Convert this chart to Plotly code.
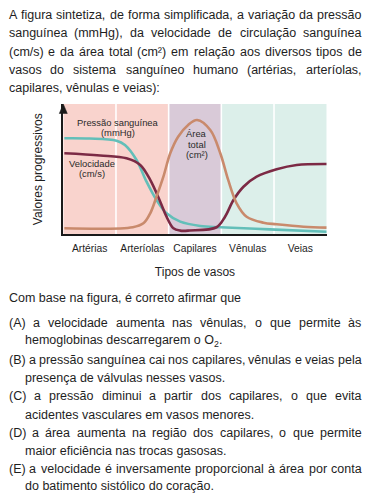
import plotly.graph_objects as go

# ---------------- data ----------------
categories = ["Artérias", "Arteríolas", "Capilares", "Vênulas", "Veias"]
band_colors = ["#f9d3cd", "#f9d3cd", "#d9cad8", "#dcefea", "#dcefea"]

pressure_x = [-0.48, 0.0, 0.51, 0.67, 0.89, 1.08, 1.27, 1.46, 1.72, 2.1, 2.48, 3.42, 4.5]
pressure_y = [73.7, 73.5, 71.8, 68.5, 57.0, 40.4, 26.3, 16.1, 9.7, 6.4, 5.4, 3.8, 2.0]

velocity_x = [-0.48, 0.2, 0.7, 0.96, 1.15, 1.34, 1.46, 1.59, 1.72, 1.9, 2.41, 2.57, 2.73, 2.92, 3.17, 3.55, 3.93, 4.5]
velocity_y = [62.2, 60.5, 58.3, 53.2, 41.7, 25.0, 13.5, 4.6, 2.8, 2.9, 5.4, 13.5, 26.3, 36.5, 44.2, 49.9, 53.2, 54.0]

area_x = [-0.48, 0.82, 1.02, 1.15, 1.27, 1.4, 1.53, 1.68, 1.87, 2.04, 2.29, 2.48, 2.63, 2.79, 2.98, 3.3, 3.55, 4.06, 4.5]
area_y = [4.6, 5.4, 8.4, 16.1, 28.9, 44.2, 62.2, 74.9, 83.9, 87.7, 80.0, 62.2, 41.7, 23.8, 13.5, 8.9, 7.7, 5.8, 5.1]

intro_lines = [
    "A figura sintetiza, de forma simplificada, a variação da pressão",
    "sanguínea (mmHg), da velocidade de circulação sanguínea",
    "(cm/s) e da área total (cm²) em relação aos diversos tipos de",
    "vasos do sistema sanguíneo humano (artérias, arteríolas,",
    "capilares, vênulas e veias):",
]
question_line = "Com base na figura, é correto afirmar que"
option_lines = [
    ("(A) a velocidade aumenta nas vênulas, o que permite às", "hemoglobinas descarregarem o O<sub>2</sub>."),
    ("(B) a pressão sanguínea cai nos capilares, vênulas e veias pela", "presença de válvulas nesses vasos."),
    ("(C) a pressão diminui a partir dos capilares, o que evita", "acidentes vasculares em vasos menores."),
    ("(D) a área aumenta na região dos capilares, o que permite", "maior eficiência nas trocas gasosas."),
    ("(E) a velocidade é inversamente proporcional à área por conta", "do batimento sistólico do coração."),
]

# ---------------- helpers ----------------
W, H = 368, 493
FONT = "Liberation Sans"
TXT = "#1e1e1e"
FS = 12.5

AW = {' ': 278, '(': 333, ')': 333, ',': 278, '.': 278, '/': 278, ':': 278, '²': 333,
      'A': 667, 'B': 667, 'C': 722, 'D': 722, 'E': 667, 'O': 778, 'P': 667, 'V': 667, 'T': 611,
      'a': 556, 'b': 556, 'c': 500, 'd': 556, 'e': 556, 'f': 278, 'g': 556, 'h': 556, 'i': 222,
      'j': 222, 'k': 500, 'l': 222, 'm': 833, 'n': 556, 'o': 556, 'p': 556, 'q': 556, 'r': 333,
      's': 500, 't': 278, 'u': 556, 'v': 500, 'w': 722, 'x': 500, 'y': 500, 'z': 500,
      'á': 556, 'à': 556, 'â': 556, 'ã': 556, 'é': 556, 'ê': 556, 'í': 278, 'ó': 556, 'ô': 556,
      'õ': 556, 'ú': 556, 'ç': 500, 'H': 722, 'M': 833}


def tw(s, fs=FS):
    return sum(AW.get(ch, 556) for ch in s) * fs / 1000.0


annotations = []


def add_text(text, xpx, ypx, fs=FS, anchor="left", color=TXT):
    annotations.append(dict(text=text, x=xpx / W, y=1 - ypx / H, xref="paper", yref="paper",
                            xanchor=anchor, yanchor="middle", showarrow=False,
                            borderpad=0, borderwidth=0,
                            font=dict(family=FONT, size=fs, color=color)))


def add_justified(line, left, right, ypx, fs=FS):
    words = line.split(" ")
    widths = [tw(w, fs) for w in words]
    gap = (right - left - sum(widths)) / (len(words) - 1)
    x = left
    for w, wd in zip(words, widths):
        add_text(w, x, ypx, fs)
        x += wd + gap


# ---------------- figure ----------------
fig = go.Figure()

fig.add_trace(go.Scatter(x=pressure_x, y=pressure_y, mode="lines", line=dict(color="#63bfb9", width=2.6, shape="spline", smoothing=1.0), hoverinfo="skip"))
fig.add_trace(go.Scatter(x=velocity_x, y=velocity_y, mode="lines", line=dict(color="#7c2a45", width=2.6, shape="spline", smoothing=1.0), hoverinfo="skip"))
fig.add_trace(go.Scatter(x=area_x, y=area_y, mode="lines", line=dict(color="#c98a6c", width=2.6, shape="spline", smoothing=1.0), hoverinfo="skip"))

AX_L, AX_R, AX_B, AX_T = 63.3, 326.7, 234.3, 104.0

shapes = []
for i, c in enumerate(band_colors):
    shapes.append(dict(type="rect", xref="x", yref="y domain", x0=i - 0.5, x1=i + 0.5, y0=0, y1=1,
                       fillcolor=c, line=dict(width=0), layer="below"))
for i in range(1, len(categories)):
    shapes.append(dict(type="line", xref="x", yref="y domain", x0=i - 0.5, x1=i - 0.5, y0=0, y1=1,
                       line=dict(color="white", width=1.6), layer="below"))


# arrowhead on top of the y axis (paper coords)
def px(x):
    return x / W


def py(y):
    return 1 - y / H


arrow_path = "M {:.5f} {:.5f} L {:.5f} {:.5f} L {:.5f} {:.5f} Z".format(
    px(AX_L - 4), py(AX_T + 9.5), px(AX_L + 4), py(AX_T + 9.5), px(AX_L), py(AX_T))
shapes.append(dict(type="path", xref="paper", yref="paper", path=arrow_path,
                   fillcolor="#1a1a1a", line=dict(color="#1a1a1a", width=0.5), layer="above"))

# intro text
LEFT, RIGHT = 8.5, 361.5
intro_y = [15, 33.3, 51.6, 70, 88.3]
for k, (line, y) in enumerate(zip(intro_lines, intro_y)):
    if k < len(intro_lines) - 1:
        add_justified(line, LEFT, RIGHT, y)
    else:
        add_text(line, LEFT, y)

add_text(question_line, LEFT, 298)
opt_y = [(323, 341.3), (360, 378), (396.3, 414.5), (432.8, 451), (469.2, 486)]
for (l1, l2), (y1, y2) in zip(option_lines, opt_y):
    add_justified(l1, LEFT, RIGHT, y1)
    add_text(l2, 25, y2)

# in-chart labels (data coords)
lab_font = dict(family=FONT, size=9.4, color="#2a2a2a")
for txt, x, y in [("Pressão sanguínea", 0.53, 86.0), ("(mmHg)", 0.53, 78.0),
                  ("Velocidade", 0.04, 54.6), ("(cm/s)", 0.04, 46.6),
                  ("Área", 2.03, 77.3), ("total", 2.03, 69.3), ("(cm²)", 2.03, 61.3)]:
    annotations.append(dict(text=txt, x=x, y=y, xref="x", yref="y", showarrow=False,
                            xanchor="center", yanchor="middle", borderpad=0, font=lab_font))

fig.update_layout(
    width=W, height=H, margin=dict(l=0, r=0, t=0, b=0),
    paper_bgcolor="white", plot_bgcolor="white", showlegend=False,
    shapes=shapes, annotations=annotations,
    font=dict(family=FONT, color=TXT),
    xaxis=dict(domain=[AX_L / W, AX_R / W], range=[-0.5, 4.5], showline=True, linecolor="#1a1a1a",
               linewidth=1.5, showgrid=False, zeroline=False, ticks="",
               tickvals=list(range(len(categories))), ticktext=categories,
               tickfont=dict(family=FONT, size=10.3, color=TXT), ticklabelstandoff=4,
               title=dict(text="Tipos de vasos", font=dict(family=FONT, size=12, color=TXT), standoff=14)),
    yaxis=dict(domain=[(H - AX_B) / H, (H - AX_T) / H], range=[0, 100], showline=True, linecolor="#1a1a1a",
               linewidth=1.5, showgrid=False, zeroline=False, ticks="", showticklabels=False,
               title=dict(text="Valores progressivos", font=dict(family=FONT, size=12.1, color=TXT), standoff=16)),
)

fig.write_html("out.html")
